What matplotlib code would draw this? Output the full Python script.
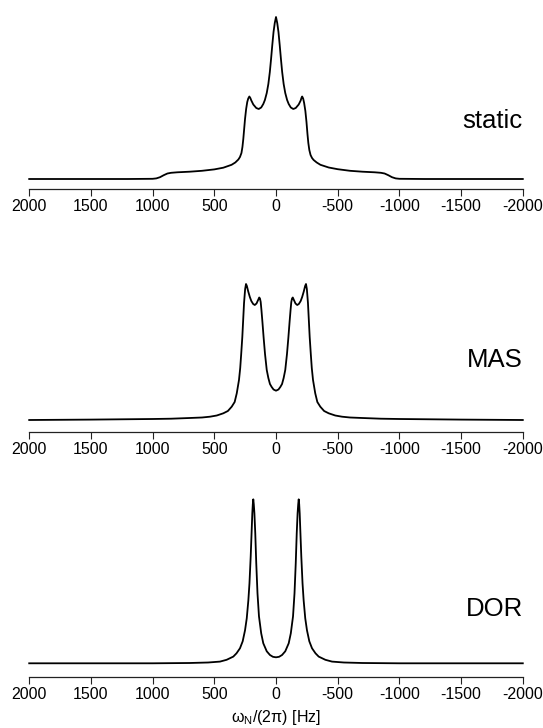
import matplotlib
matplotlib.use('Agg')
import matplotlib.pyplot as plt
import matplotlib.transforms as transforms

plt.rcParams['font.family'] = ['Liberation Sans', 'DejaVu Sans']
plt.rcParams['mathtext.fontset'] = 'custom'
plt.rcParams['mathtext.rm'] = 'Liberation Sans'
plt.rcParams['mathtext.default'] = 'regular'

# frequency axis ticks
tick_vals = [2000, 1500, 1000, 500, 0, -500, -1000, -1500, -2000]
tick_labels = ['2000', '1500', '1000', '500', '0', '-500', '-1000', '-1500', '-2000']

# static spectrum (Hz, intensity a.u.)
static_hz = [2000, 1500, 1200, 1000, 970, 940, 910, 880, 850, 800, 700, 600, 500,
             427, 360, 330, 305, 292, 280, 272, 265, 258, 251, 242, 233, 225, 216,
             208, 200, 184, 160, 140, 120, 103, 90, 75, 62, 50, 40, 30, 20, 10, 0,
             -10, -20, -30, -40, -50, -62, -75, -90, -103, -120, -140, -160, -184,
             -200, -206, -212, -220, -228, -238, -247, -255, -262, -270, -280, -292,
             -305, -330, -360, -427, -500, -600, -700, -800, -850, -880, -910, -940,
             -970, -1000, -1200, -1500, -2000]
static_int = [0, 0, 0, 0.2, 0.6, 1.8, 3.8, 5.5, 6.2, 6.7, 7.3, 8.2, 9.6,
              11.3, 14.2, 16.5, 19.5, 22, 26, 32, 40, 50, 60, 70, 77, 80.5, 82.5,
              81, 78.5, 74.5, 71, 70, 71.5, 75, 79, 86, 95, 107, 120, 134, 147, 156, 162,
              156, 147, 134, 120, 107, 95, 86, 79, 75, 71.5, 70, 71, 74.5,
              78.5, 81, 82.5, 80.5, 76, 68, 57, 45, 36, 29, 24, 21,
              19, 16.5, 14.2, 11.5, 9.8, 8.2, 7.3, 6.7, 6.2, 5.5, 3.8, 1.8,
              0.6, 0.2, 0, 0, 0]

# MAS spectrum
mas_hz = [2000, 1500, 1000, 850, 700, 600, 535, 480, 427, 390, 359, 335, 318, 300,
          290, 282, 273, 266, 259, 250, 243, 236, 225, 212, 200, 185, 172, 158, 145,
          136, 130, 124, 118, 110, 100, 89, 75, 62, 49, 35, 20, 0,
          -20, -35, -49, -62, -75, -89, -100, -110, -118, -124, -130, -136, -145,
          -158, -172, -185, -200, -212, -225, -236, -243, -250, -259, -266, -273,
          -282, -290, -300, -318, -335, -359, -390, -427, -480, -535, -600, -700,
          -850, -1000, -1500, -2000]
mas_int = [0, 0.4, 1, 1.3, 2, 2.5, 3.3, 4.5, 6.7, 9, 13.3, 18, 26.7, 40,
           52, 66, 83, 100, 117, 131, 136, 134, 128.5, 123, 119, 116, 115, 116.5, 120,
           122.5, 121.5, 118, 110, 98, 82, 66, 50, 42, 36, 33, 30.5, 29.3,
           30.5, 33, 36, 42, 50, 66, 82, 98, 110, 118, 121.5, 122.5, 120,
           116.5, 115, 116, 119, 123, 128.5, 134, 136, 131, 117, 100, 83,
           66, 52, 40, 26.7, 18, 13.3, 9, 6.7, 4.5, 3.3, 2.5, 2,
           1.3, 1, 0.4, 0]

# DOR spectrum
dor_hz = [2000, 1500, 1000, 700, 550, 454, 400, 346, 320, 292, 270, 251, 237, 224,
          215, 205, 198, 192, 188, 184, 180, 175, 168, 160, 150, 138, 120, 103, 75,
          49, 25, 0, -25, -49, -75, -103, -120, -138, -150, -160, -168, -175, -180,
          -184, -188, -192, -198, -205, -215, -224, -237, -251, -270, -292, -320,
          -346, -400, -454, -550, -700, -1000, -1500, -2000]
dor_int = [0, 0, 0, 0.3, 0.8, 1.7, 3.5, 6.7, 10, 15, 22, 33, 45, 63,
           80, 107, 130, 150, 159, 164, 159, 150, 130, 100, 70, 47, 30, 20, 12,
           8.3, 6.5, 6, 6.5, 8.3, 12, 20, 30, 47, 70, 100, 130, 150, 159,
           164, 159, 150, 130, 107, 80, 63, 45, 33, 22, 15, 10,
           6.7, 3.5, 1.7, 0.8, 0.3, 0, 0, 0]

panel_names = ['static', 'MAS', 'DOR']
panel_x = [static_hz, mas_hz, dor_hz]
panel_y = [static_int, mas_int, dor_int]
label_heights = [51, 53, 47]

W, H = 543, 728
fig = plt.figure(figsize=(W / 100, H / 100), dpi=100)

# pixel layout: (axis line, data baseline, top)
layout = [(189.3, 179.0, 5.0), (431.5, 420.0, 250.0), (677.0, 663.3, 480.0)]
x_left, x_right = 29.2, 522.8

for i, (axis_py, base_py, top_py) in enumerate(layout):
    ax = fig.add_axes([x_left / W, 1 - axis_py / H, (x_right - x_left) / W, (axis_py - top_py) / H])
    ax.plot(panel_x[i], panel_y[i], color='black', lw=1.3, clip_on=False)
    ax.set_xlim(2000, -2000)
    ax.set_ylim(-(axis_py - base_py), base_py - top_py)
    ax.set_xticks(tick_vals)
    ax.set_xticklabels(tick_labels)
    ax.tick_params(axis='x', direction='out', length=4.8, width=0.8, labelsize=11.5, pad=2.5, color='#222222')
    ax.set_yticks([])
    for s in ['top', 'left', 'right']:
        ax.spines[s].set_visible(False)
    ax.spines['bottom'].set_linewidth(0.9)
    ax.spines['bottom'].set_color('#222222')
    ax.patch.set_visible(False)
    trans = transforms.blended_transform_factory(ax.transAxes, ax.transData)
    ax.text(1.0, label_heights[i], panel_names[i], transform=trans, ha='right', va='baseline', fontsize=18.5)
    if i == 2:
        ax.set_xlabel(r'ω$_{N}$/(2π) [Hz]', fontsize=11.5, labelpad=4)

fig.savefig('out.png', dpi=100)
